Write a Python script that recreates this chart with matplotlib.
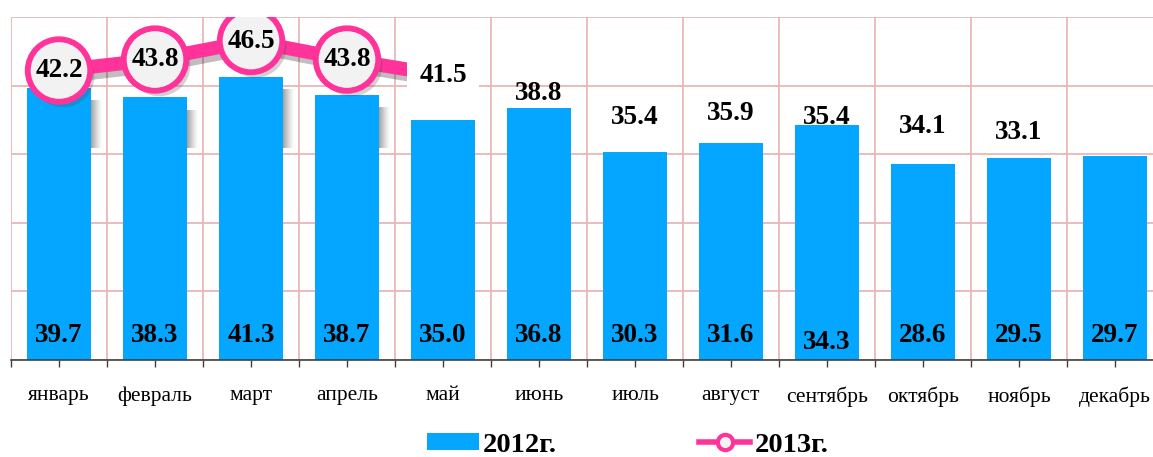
import numpy as np
import matplotlib
matplotlib.use("Agg")
import matplotlib.pyplot as plt
import matplotlib.patheffects as pe
from matplotlib.patches import Patch
from matplotlib.lines import Line2D

months = ["январь", "февраль", "март", "апрель", "май", "июнь", "июль",
          "август", "сентябрь", "октябрь", "ноябрь", "декабрь"]
values_2012 = [39.7, 38.3, 41.3, 38.7, 35.0, 36.8, 30.3, 31.6, 34.3, 28.6, 29.5, 29.7]
values_2013 = [42.2, 43.8, 46.5, 43.8, 41.5]
# extra data labels shown without line (June-November)
extra_months = [5, 6, 7, 8, 9, 10]
extra_values = [38.8, 35.4, 35.9, 35.4, 34.1, 33.1]

BLUE = "#05A6FF"
PINK = "#FF3399"
GRID = "#E6B9B8"
SERIF = ["Liberation Serif", "DejaVu Serif"]

W, H = 1153, 457
fig = plt.figure(figsize=(W / 100, H / 100), dpi=100)
ax = fig.add_axes([11 / W, (H - 360) / H, 1152 / W, 343 / H])
ax.set_xlim(-0.5, 11.5)
ax.set_ylim(0, 50)

x = np.arange(len(months))

# grid
ax.set_yticks(np.arange(0, 51, 10))
ax.yaxis.grid(True, color=GRID, lw=1.3)
ax.set_xticks(np.arange(-0.5, 12, 1), minor=True)
ax.xaxis.grid(True, which="minor", color=GRID, lw=1.3)
ax.set_axisbelow(True)
ax.tick_params(axis="y", left=False, labelleft=False)
for s in ["left", "right", "top"]:
    ax.spines[s].set_visible(False)
ax.spines["bottom"].set_color("#404040")
ax.spines["bottom"].set_linewidth(1.2)

ax.set_xticks(x)
ax.set_xticklabels(months, family=SERIF, fontsize=15.5)
ax.tick_params(axis="x", which="both", length=5, width=1.0, color="#404040",
               direction="out", pad=14)

# shadows to the right of first bars (gradient)
bw = 0.667
for i in range(4):
    top = values_2012[i] - 1.8
    bottom = 30.9
    n = 12
    for k in range(n):
        x0 = i + bw / 2 - 0.01 + k * 0.12 / n
        ax.fill_between([x0, x0 + 0.12 / n], bottom, top, color="#707070",
                        alpha=0.7 * (1 - k / n) ** 1.3, lw=0, zorder=1.5)

# bars
ax.bar(x, values_2012, width=bw, color=BLUE, zorder=2)
for i, v in enumerate(values_2012):
    dy = -1.0 if i == 8 else 0
    ax.text(i, 3.5 + dy, f"{v:.1f}", ha="center", va="center", fontsize=19.5,
            fontweight="bold", family=SERIF, zorder=3)

# 2013 line
x13 = np.arange(len(values_2013))
ax.plot(x13, values_2013, color=PINK, lw=10, solid_capstyle="butt", zorder=4,
        path_effects=[pe.SimpleLineShadow(offset=(3, -4), alpha=0.25, shadow_color="#000000"),
                      pe.Normal()])
ax.plot(x13[:-1], values_2013[:-1], ls="none", marker="o", markersize=45,
        markerfacecolor="#F2F2F2", markeredgecolor=PINK, markeredgewidth=4.2,
        zorder=5,
        path_effects=[pe.SimplePatchShadow(offset=(3, -4), alpha=0.25), pe.Normal()])
for i, v in enumerate(values_2013[:-1]):
    ax.text(i, v, f"{v:.1f}", ha="center", va="center", fontsize=19.5,
            fontweight="bold", family=SERIF, zorder=6)
last = len(values_2013) - 1
ax.text(last, values_2013[last], f"{values_2013[last]:.1f}", ha="center", va="center",
        fontsize=19.5, fontweight="bold", family=SERIF, zorder=6,
        bbox=dict(boxstyle="square,pad=0.45", facecolor="white", edgecolor="none"))

for m, v in zip(extra_months, extra_values):
    ax.text(m, v, f"{v:.1f}", ha="center", va="center", fontsize=19.5,
            fontweight="bold", family=SERIF, zorder=6)

# legend
handles = [Patch(facecolor=BLUE, edgecolor="none"),
           Line2D([0], [0], color=PINK, lw=4, marker="o", markersize=11,
                  markerfacecolor="#F2F2F2", markeredgecolor=PINK, markeredgewidth=3)]
leg = fig.legend(handles, ["2012г.", "2013г."], loc="center",
                 bbox_to_anchor=(628 / W, 1 - 445 / H), ncol=2, frameon=False,
                 prop=dict(family=SERIF, weight="bold", size=20.5),
                 handlelength=1.8, handleheight=0.5, handletextpad=0.15,
                 columnspacing=5.0, borderpad=0.0)

fig.savefig("out.png", dpi=100)
